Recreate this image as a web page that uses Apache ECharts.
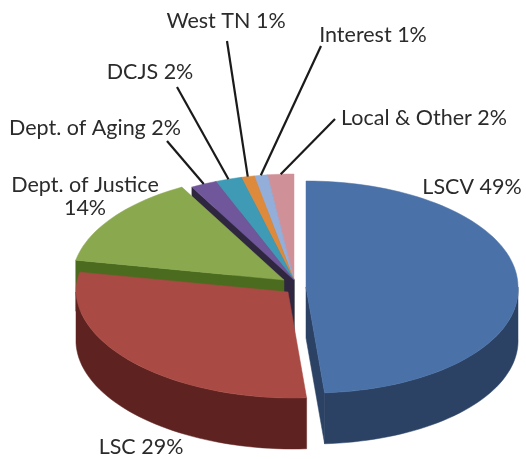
<!DOCTYPE html>
<html>
<head>
<meta charset="UTF-8">
<title>Funding sources</title>
<script src="https://cdn.jsdelivr.net/npm/echarts@6/dist/echarts.min.js"></script>
<style>
	html,body{margin:0;padding:0;background:#fff;}
	#main{width:526px;height:459px;}
</style>
</head>
<body>
<div id="main"></div>
<script type="text/javascript">
	// values, clockwise from 12 o'clock
	var categories = ['LSCV','LSC','Dept. of Justice','Dept. of Aging','DCJS','West TN','Interest','Local & Other'];
	var values = [49,29,14,2,2,1,1,2];
	var topColors = ['#4a72a8','#aa4a45','#8aa84e','#70569a','#3f9ab5','#dd8a3c','#93aed9','#d09098'];
	var wallColors = ['#2b4265','#5e2320','#4b6b1f','#2f2640','#22606f','#8a5020','#5a6f90','#86585e'];

	// centre of every slice: the pie is pulled apart a little
	var centers = [[306,287],[288,292],[284,280],[294,280],[294,280],[294,280],[294,280],[294,280]];
	var rx = 212, ry = 106, depth = 51;
	// the front half of the picture leans to the right
	var lean = 0.05;
	// back to front
	var drawOrder = [7,6,5,4,3,2,1,0];

	// label anchors, leader = [x,y] where the line to the rim starts
	var labels = [
		{lines:['LSCV 49%'],x:472,y:187},
		{lines:['LSC 29%'],x:141,y:447},
		{lines:['Dept. of Justice','14%'],x:85,y:185},
		{lines:['Dept. of Aging 2%'],x:95,y:128,leader:[167,141]},
		{lines:['DCJS 2%'],x:150,y:72,leader:[177,87]},
		{lines:['West TN 1%'],x:226,y:21,leader:[227,41]},
		{lines:['Interest 1%'],x:373,y:35,leader:[321,46]},
		{lines:['Local & Other 2%'],x:424,y:118,leader:[335,119]}
	];

	var total = values.reduce(function (a,b){return a+b;},0);
	var angles = [0];
	values.forEach(function (v,i){
		angles.push(angles[i]+v/total*360);
	});

	function rim(i,deg,dy){
		var r = deg*Math.PI/180;
		var down = -ry*Math.cos(r);
		return [centers[i][0]+rx*Math.sin(r)+Math.max(down,0)*lean, centers[i][1]+down+(dy||0)];
	}
	function arc(i,from,to,dy){
		var pts = [], n = Math.max(2,Math.ceil((to-from)/2));
		for(var k=0;k<=n;k++){
			pts.push(rim(i,from+(to-from)*k/n,dy));
		}
		return pts;
	}
	function poly(points,color){
		return {type:'polygon',shape:{points:points},style:{fill:color,stroke:color,lineWidth:0.5}};
	}
	function radialWall(i,deg){
		var c = centers[i], p = rim(i,deg);
		return poly([c,p,[p[0],p[1]+depth],[c[0],c[1]+depth]],wallColors[i]);
	}

	function renderSlice(params,api){
		var i = drawOrder[params.dataIndex];
		var a = angles[i], b = angles[i+1];
		var children = [];
		// only the sides turned towards the viewer
		if(a>180 && a<360){
			children.push(radialWall(i,a));
		}
		if(b>0 && b<180){
			children.push(radialWall(i,b));
		}
		var from = Math.max(a,90), to = Math.min(b,270);
		if(to>from){
			children.push(poly(arc(i,from,to,0).concat(arc(i,from,to,depth).reverse()),wallColors[i]));
		}
		children.push(poly([centers[i]].concat(arc(i,a,b,0)),topColors[i]));
		return {type:'group',children:children};
	}

	function renderLabel(params,api){
		var i = params.dataIndex, l = labels[i], children = [];
		l.lines.forEach(function (t,k){
			children.push({type:'text',style:{
				text:t,x:l.x,y:l.y+k*23,
				fill:'#2b2b2b',font:'21.5px Lato',
				textAlign:'center',textVerticalAlign:'middle'
			}});
		});
		if(l.leader){
			var end = rim(i,(angles[i]+angles[i+1])/2);
			children.push({type:'line',
				shape:{x1:l.leader[0],y1:l.leader[1],x2:end[0],y2:end[1]},
				style:{stroke:'#1a1a1a',lineWidth:2.2}});
		}
		return {type:'group',children:children};
	}

	var myChart = echarts.init(document.getElementById('main'),null,{renderer:'canvas'});
	myChart.setOption({
		animation:false,
		backgroundColor:'#fff',
		series:[
			{type:'custom',coordinateSystem:'none',renderItem:renderSlice,silent:true,
				data:drawOrder.map(function (i){return values[i];})},
			{type:'custom',coordinateSystem:'none',renderItem:renderLabel,silent:true,z:5,
				data:values}
		]
	});
</script>
</body>
</html>
